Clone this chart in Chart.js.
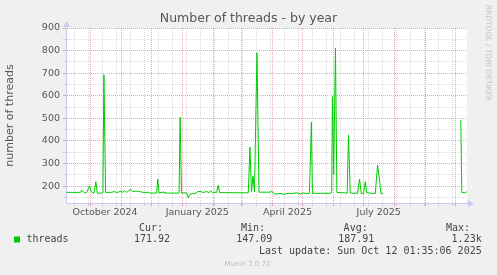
<!DOCTYPE html>
<html>
<head>
<meta charset="utf-8">
<script src="https://cdn.jsdelivr.net/npm/chart.js@4.4.1/dist/chart.umd.min.js"></script>
<style>
    html, body { margin: 0; padding: 0; background: #f0f0f0; }
    canvas { display: block; }
</style>
</head>
<body>
<canvas id="chartThreads" width="497" height="275" style="width:497px;height:275px"></canvas>
<script>
// Days counted from 1 Oct 2024 (daily averages)
const dayOffsets = [
    -23.5, -9.5, -8.5, -5.5, -3.5, -0.5, 1.2, 3.8, 5.8, 7.2, 12.8, 13.8, 15.5,
    21.2, 24.5, 26.5, 31.2, 32.5, 34.5, 36.5, 40.5, 42.5, 46.5, 49.5, 52.5, 58.5,
    59.5, 66.5, 67.5, 68.8, 73.8, 74.5, 88.8, 89.8, 91.2, 96.2, 98, 99.5, 102.5,
    104.5, 107.5, 111.2, 112.5, 116.2, 118.5, 120.5, 122.2, 124.5, 126.2, 127.8,
    129.2, 157.8, 159.5, 161, 162.5, 164, 166.5, 168.5, 179.5, 181.2, 182.8, 184.5,
    189.5, 193.5, 197.5, 201.2, 206.2, 209.5, 212.5, 216.2, 218.8, 220.8, 221.8,
    239.5, 241, 241.8, 243, 244.8, 246.2, 256.5, 257.8, 259.5, 266.8, 268.8, 270.5,
    272.8, 274.5, 276, 284.5, 286.8, 288.8, 290.2, 292.2, 330, 369.8, 370.8, 373.5,
    375.5, 376
];
const threadValues = [
    172, 172, 182, 170, 171, 201, 176, 168, 219, 168, 170, 693, 172,
    172, 176, 171, 178, 172, 180, 172, 186, 176, 177, 176, 172, 172,
    169, 169, 231, 169, 174, 169, 169, 505, 169, 170, 148, 163, 167,
    166, 176, 175, 171, 176, 171, 179, 171, 173, 171, 203,
    171, 170, 373, 175, 245, 175, 790, 173, 173, 177, 170, 165,
    167, 164, 168, 167, 170, 165, 169, 167, 168, 483, 168,
    168, 170, 596, 250, 811, 172, 169, 426, 169, 168, 231, 167,
    168, 219, 170, 167, 293, 225, 167, 167, null, 493, 172, 170,
    174, 172
];

// Axis ticks
const yTicks = [150, 200, 250, 300, 350, 400, 450, 500, 550, 600, 650, 700, 750, 800, 850, 900];
const monthStartDays = [0, 31, 61, 92, 123, 151, 182, 212, 243, 273, 304, 335, 365];
const twoWeekDays = [-16, -2, 12, 26, 40, 54, 68, 82, 96, 110, 124, 138, 152, 166, 180,
    194, 208, 222, 236, 250, 264, 278, 292, 306, 320, 334, 348, 362];
const quarterDays = [0, 92, 182, 273];
const quarterLabels = ['October 2024', 'January 2025', 'April 2025', 'July 2025'];

// Legend texts
const seriesName = 'threads';
const statHeaders = ['Cur:', 'Min:', 'Avg:', 'Max:'];
const statValues = ['171.92', '147.09', '187.91', '1.23k'];
const lastUpdate = 'Last update: Sun Oct 12 01:35:06 2025';

const MAJOR = 'rgba(230, 40, 40, 0.42)';
const MINOR = 'rgba(140, 140, 140, 0.32)';
const AXIS = '#c8c8f0';
const LINE = '#00cc00';

const xTickValues = Array.from(new Set(monthStartDays.concat(twoWeekDays))).sort((a, b) => a - b);

// Backgrounds, title, legend and axis arrows
const muninDecor = {
    id: 'muninDecor',
    beforeDraw(chart) {
        const { ctx, chartArea: a } = chart;
        ctx.save();
        ctx.fillStyle = '#f0f0f0';
        ctx.fillRect(0, 0, chart.width, chart.height);
        ctx.fillStyle = '#ffffff';
        ctx.fillRect(a.left, a.top, a.right - a.left, a.bottom - a.top);
        ctx.restore();
    },
    afterDraw(chart) {
        const { ctx, chartArea: a } = chart;
        ctx.save();

        // axis arrows
        ctx.fillStyle = AXIS;
        ctx.beginPath();
        ctx.moveTo(a.left - 3, a.top - 1);
        ctx.lineTo(a.left + 4, a.top - 1);
        ctx.lineTo(a.left + 0.5, a.top - 7);
        ctx.closePath();
        ctx.fill();
        ctx.beginPath();
        ctx.moveTo(a.right + 1, a.bottom - 3);
        ctx.lineTo(a.right + 1, a.bottom + 4);
        ctx.lineTo(a.right + 7, a.bottom + 0.5);
        ctx.closePath();
        ctx.fill();

        // title
        ctx.fillStyle = '#555';
        ctx.font = '12.5px "DejaVu Sans"';
        ctx.textAlign = 'center';
        ctx.textBaseline = 'middle';
        ctx.fillText('Number of threads - by year', 248.5, 19);

        // vertical watermark
        ctx.save();
        ctx.translate(488, 53);
        ctx.rotate(Math.PI / 2);
        ctx.fillStyle = '#c4c4c4';
        ctx.font = '7.5px "DejaVu Sans"';
        ctx.fillText('RRDTOOL / TOBI OETIKER', 0, 0);
        ctx.restore();

        // legend
        ctx.fillStyle = LINE;
        ctx.fillRect(14, 236.5, 6, 6);
        ctx.fillStyle = '#444';
        ctx.font = '10px "DejaVu Sans Mono"';
        ctx.textAlign = 'left';
        ctx.fillText(seriesName, 26.5, 239.5);
        ctx.textAlign = 'right';
        const headerRight = [163, 265, 367.7, 470];
        const valueRight = [170, 272.3, 374.3, 481.7];
        statHeaders.forEach((h, i) => ctx.fillText(h, headerRight[i], 228));
        statValues.forEach((v, i) => ctx.fillText(v, valueRight[i], 239.5));
        ctx.fillText(lastUpdate, 481.7, 251);

        ctx.fillStyle = '#bdbdbd';
        ctx.font = '7px "DejaVu Sans"';
        ctx.textAlign = 'center';
        ctx.fillText('Munin 2.0.72', 247.5, 264);
        ctx.restore();
    }
};

const ctxThreads = document.getElementById('chartThreads').getContext('2d');
new Chart(ctxThreads, {
    type: 'line',
    data: {
        datasets: [{
            label: seriesName,
            data: dayOffsets.map((d, i) => ({ x: d, y: threadValues[i] })),
            borderColor: LINE,
            borderWidth: 1,
            pointRadius: 0,
            tension: 0,
            fill: false,
            spanGaps: false
        }]
    },
    options: {
        responsive: false,
        animation: false,
        devicePixelRatio: 1,
        layout: {
            padding: { top: 28, right: 30, bottom: 0, left: 0 }
        },
        plugins: {
            legend: { display: false },
            tooltip: { enabled: false }
        },
        scales: {
            x: {
                type: 'linear',
                min: -24,
                max: 376,
                afterBuildTicks: function(scale) {
                    scale.ticks = xTickValues.map(v => ({ value: v }));
                },
                afterFit: function(scale) {
                    scale.height = 72;
                },
                ticks: {
                    autoSkip: false,
                    maxRotation: 0,
                    labelOffset: 15,
                    padding: 1,
                    color: '#555',
                    font: { family: 'DejaVu Sans', size: 9.5 },
                    callback: function(value) {
                        const i = quarterDays.indexOf(value);
                        return i >= 0 ? quarterLabels[i] : '';
                    }
                },
                grid: {
                    lineWidth: 1,
                    tickLength: 3,
                    color: function(c) {
                        return monthStartDays.includes(c.tick.value) ? MAJOR : MINOR;
                    }
                },
                border: { color: AXIS, width: 1, dash: [1, 1] }
            },
            y: {
                min: 125,
                max: 900,
                afterBuildTicks: function(scale) {
                    scale.ticks = yTicks.map(v => ({ value: v }));
                },
                afterFit: function(scale) {
                    scale.width = 66;
                },
                ticks: {
                    autoSkip: false,
                    padding: 3,
                    color: '#555',
                    font: { family: 'DejaVu Sans', size: 9.5 },
                    callback: function(value) {
                        return value % 100 === 0 ? String(value) : '';
                    }
                },
                grid: {
                    lineWidth: 1,
                    tickLength: 3,
                    color: function(c) {
                        return c.tick.value % 100 === 0 ? MAJOR : MINOR;
                    }
                },
                border: { color: AXIS, width: 1, dash: [1, 1] },
                title: {
                    display: true,
                    text: 'number of threads',
                    color: '#555',
                    font: { family: 'DejaVu Sans', size: 11 }
                }
            }
        }
    },
    plugins: [muninDecor]
});
</script>
</body>
</html>
